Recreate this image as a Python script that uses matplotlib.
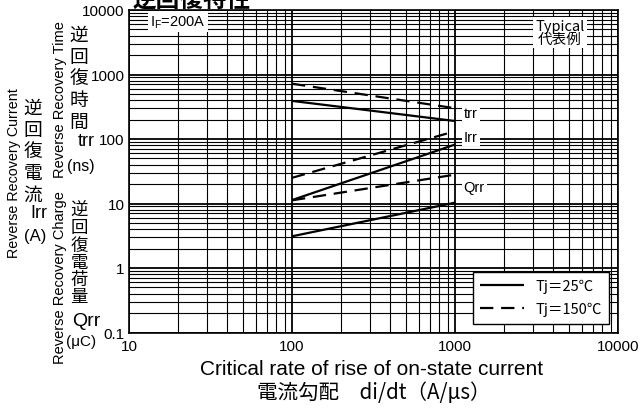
import matplotlib
matplotlib.use('Agg')
import matplotlib.pyplot as plt
from matplotlib.ticker import LogLocator, FixedLocator, FixedFormatter, NullFormatter

plt.rcParams['font.family'] = ['Liberation Sans', 'Noto Sans CJK JP', 'DejaVu Sans']
CJK = ['Noto Sans CJK JP', 'DejaVu Sans']
NARROW = ['Liberation Sans Narrow', 'Liberation Sans', 'DejaVu Sans']

# 読み取った値 (di/dt = 100, 1000 A/us)
didt = [100, 1000]
trr_25 = [390, 190]
trr_150 = [720, 300]
irr_25 = [11.3, 82]
irr_150 = [25, 132]
qrr_25 = [3.1, 10.3]
qrr_150 = [11.2, 28]

x_ticks = [10, 100, 1000, 10000]
x_labels = ['10', '100', '1000', '10000']
y_ticks = [0.1, 1, 10, 100, 1000, 10000]
y_labels = ['0.1', '1', '10', '100', '1000', '10000']

W, H = 642, 410
fig = plt.figure(figsize=(W / 100, H / 100), dpi=100)
ax = fig.add_axes([129 / W, 1 - 333.5 / H, (618 - 129) / W, (333.5 - 11) / H])

ax.set_xscale('log')
ax.set_yscale('log')
ax.set_xlim(10, 10000)
ax.set_ylim(0.1, 10000)

ax.xaxis.set_major_locator(FixedLocator(x_ticks))
ax.xaxis.set_major_formatter(FixedFormatter(x_labels))
ax.yaxis.set_major_locator(FixedLocator(y_ticks))
ax.yaxis.set_major_formatter(FixedFormatter(y_labels))
for a in (ax.xaxis, ax.yaxis):
    a.set_minor_locator(LogLocator(base=10, subs=range(2, 10), numticks=20))
    a.set_minor_formatter(NullFormatter())

ax.grid(True, which='major', color='black', lw=1.3)
ax.grid(True, which='minor', color='black', lw=0.8)
ax.tick_params(which='both', length=0, labelsize=11, pad=3)
ax.tick_params(axis='x', pad=5)
for lab in ax.get_xticklabels() + ax.get_yticklabels():
    lab.set_family(NARROW)
for s in ax.spines.values():
    s.set_linewidth(1.2)

dash = (0, (6, 3.5))
ax.plot(didt, trr_25, color='black', lw=1.6, solid_capstyle='butt')
ax.plot(didt, trr_150, color='black', lw=1.6, ls=dash)
ax.plot(didt, irr_25, color='black', lw=1.6, solid_capstyle='butt')
ax.plot(didt, irr_150, color='black', lw=1.6, ls=dash)
ax.plot(didt, qrr_25, color='black', lw=1.6, solid_capstyle='butt', label='Tj＝25℃')
ax.plot(didt, qrr_150, color='black', lw=1.6, ls=dash, label='Tj＝150℃')

box = dict(facecolor='white', edgecolor='none', pad=1.5)
ax.text(1130, 253, 'trr', fontsize=10.5, va='center', ha='left', bbox=box, family=NARROW)
ax.text(1130, 107, 'Irr', fontsize=10.5, va='center', ha='left', bbox=box, family=NARROW)
ax.text(1130, 18, 'Qrr', fontsize=10.5, va='center', ha='left', bbox=box, family=NARROW)
ax.text(13.5, 6700, 'I$_\\mathregular{F}$=200A', fontsize=10.5, va='center', ha='left', bbox=box)
ax.text(4400, 4500, 'Typical\n代表例', fontsize=10.5, va='center', ha='center',
        linespacing=0.95, bbox=box, family=CJK)

leg = ax.legend(loc='lower right', frameon=True, fancybox=False,
                handlelength=3.0, borderaxespad=0.6, borderpad=0.5, labelspacing=0.6,
                prop={'family': CJK, 'size': 10.5})
leg.get_frame().set_edgecolor('black')
leg.get_frame().set_linewidth(1.0)
leg.get_frame().set_alpha(1)


def px(x, y):
    return x / W, 1 - y / H


def stack(chars, x, y_top, spacing, size=13.5):
    # vertical Japanese label, one character per line
    fig.text(*px(x, y_top), '\n'.join(chars), fontsize=size, family=CJK,
             ha='center', va='top', linespacing=spacing, multialignment='center')


# title (cut at the top edge)
fig.text(*px(192, 0), '逆回復特性', fontsize=17, fontweight='bold', family=CJK, ha='center', va='center')

# y label block
fig.text(*px(14, 173), 'Reverse Recovery Current', rotation=90, fontsize=10.3, family=NARROW,
         ha='center', va='center')
stack('逆回復電流', 33, 98, 1.04)
fig.text(*px(39, 214), 'Irr', fontsize=13, family=NARROW, ha='center', va='center')
fig.text(*px(35, 237), '(A)', fontsize=12, family=NARROW, ha='center', va='center')

fig.text(*px(60, 100), 'Reverse Recovery Time', rotation=90, fontsize=10.5, family=NARROW,
         ha='center', va='center')
stack('逆回復時間', 79, 25, 1.04)
fig.text(*px(86, 142), 'trr', fontsize=13, family=NARROW, ha='center', va='center')
fig.text(*px(81, 166), '(ns)', fontsize=11.5, family=NARROW, ha='center', va='center')

fig.text(*px(60, 278), 'Reverse Recovery Charge', rotation=90, fontsize=10.5, family=NARROW,
         ha='center', va='center')
stack('逆回復電荷量', 79, 202, 0.95, size=12.5)
fig.text(*px(86, 322), 'Qrr', fontsize=14, family=NARROW, ha='center', va='center')
fig.text(*px(81, 342), '(μC)', fontsize=11, family=NARROW, ha='center', va='center')

# x label
fig.text(*px(372, 370), 'Critical rate of rise of on-state current', fontsize=15,
         ha='center', va='center')
fig.text(*px(374, 393), '電流勾配　di/dt（A/μs）', fontsize=14.8, family=CJK,
         ha='center', va='center')

fig.savefig('out.png', dpi=100)
